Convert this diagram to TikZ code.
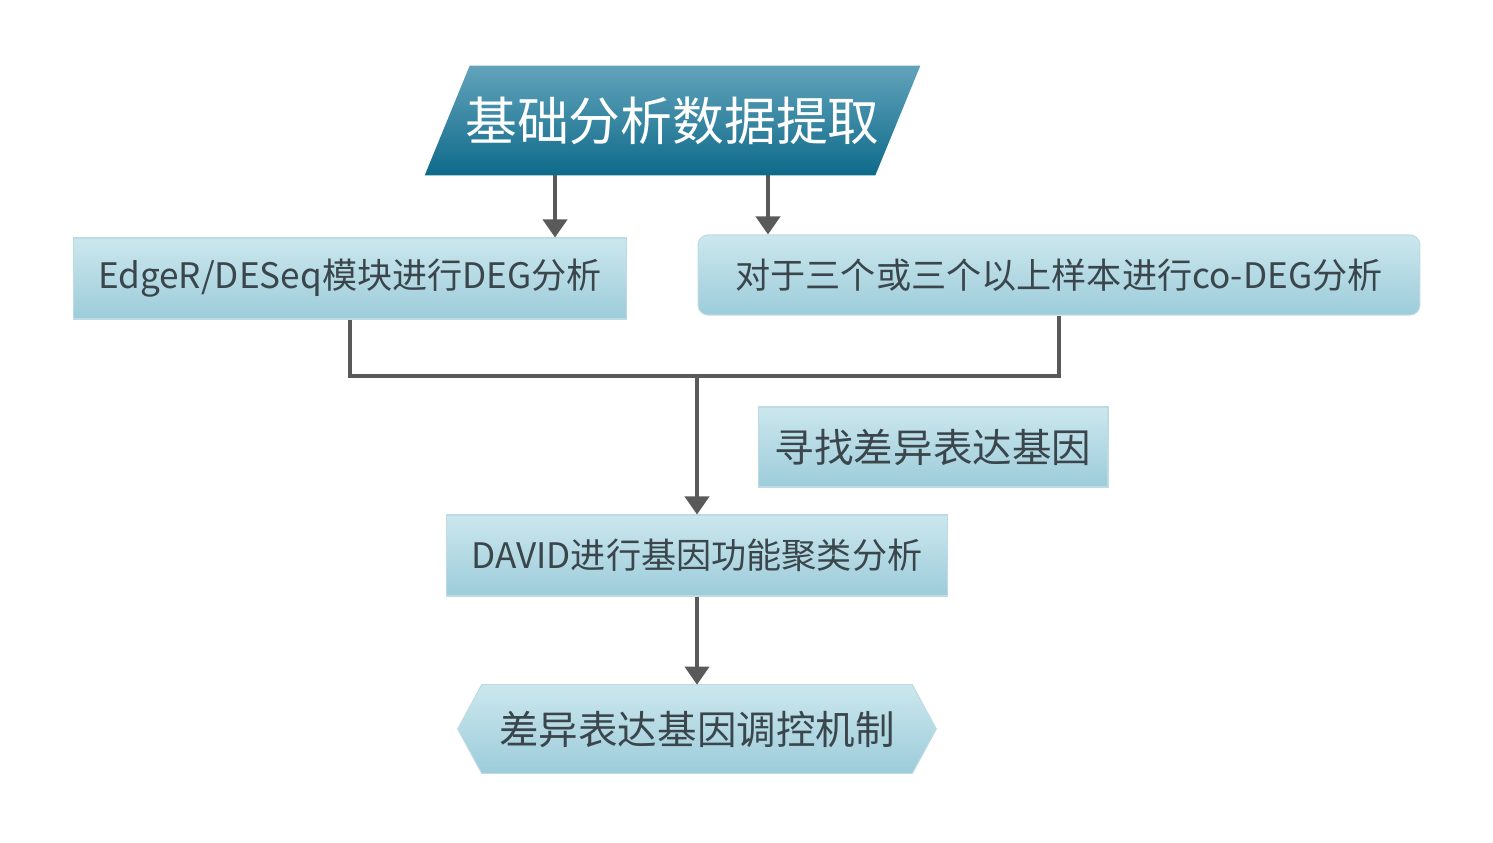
\documentclass[tikz,border=0pt]{standalone}
\usepackage{fontspec}
\usepackage{tikz}
\usetikzlibrary{arrows.meta,backgrounds}
\newfontfamily\cjk{Noto Sans CJK SC}
\definecolor{boxtop}{RGB}{204,231,238}
\definecolor{boxbot}{RGB}{156,204,218}
\definecolor{boxline}{RGB}{190,218,227}
\definecolor{headtop}{RGB}{98,163,187}
\definecolor{headbot}{RGB}{14,106,138}
\definecolor{linegray}{RGB}{90,90,90}
\definecolor{txtgray}{RGB}{58,70,76}
\tikzset{
  stepbox/.style  = {shape=rectangle, draw=boxline, line width=0.6pt,
                     top color=boxtop, bottom color=boxbot,
                     text=txtgray, inner sep=0pt,
                     font=\cjk\fontsize{20}{24}\selectfont},
  notebox/.style  = {stepbox, font=\cjk\fontsize{22.5}{27}\selectfont},
  headnode/.style = {shape=rectangle, inner sep=0pt, text=white,
                     font=\cjk\fontsize{29.5}{36}\selectfont},
  endnode/.style  = {headnode, text=txtgray,
                     font=\cjk\fontsize{22.5}{27}\selectfont},
  link/.style     = {draw=linegray, line width=2.2pt},
  arr/.style      = {link, -{Triangle[width=0.48cm,length=0.36cm]}}
}

\begin{document}
\begin{tikzpicture}[x=0.02cm,y=-0.02cm]
  \useasboundingbox (0,0) rectangle (1493,842);

  \node [headnode, minimum width=9.9cm, minimum height=2.18cm] (head) at (672.5,120.5) {基础分析数据提取};
  \node [stepbox, minimum width=11.08cm, minimum height=1.62cm] (edger) at (350,278.5) {EdgeR/DESeq模块进行DEG分析};
  \node [stepbox, rounded corners=0.2cm, minimum width=14.44cm, minimum height=1.6cm] (codeg) at (1059,275) {对于三个或三个以上样本进行co-DEG分析};
  \node [notebox, minimum width=7cm, minimum height=1.6cm] (find) at (933,447) {寻找差异表达基因};
  \node [stepbox, minimum width=10.04cm, minimum height=1.62cm] (david) at (697,555.5) {DAVID进行基因功能聚类分析};
  \node [endnode, minimum width=9.56cm, minimum height=1.76cm] (mech) at (697,729) {差异表达基因调控机制};
  \coordinate (join) at (697,376);

  % shapes behind the text
  \begin{scope}[on background layer]
    \shade [top color=headtop, bottom color=headbot]
      ([xshift=0.9cm]head.north west) -- (head.north east)
      -- ([xshift=-0.9cm]head.south east) -- (head.south west) -- cycle;
    \shade [top color=boxtop, bottom color=boxbot, draw=boxline, line width=0.6pt]
      (mech.west) -- ([xshift=0.48cm]mech.north west) -- ([xshift=-0.48cm]mech.north east)
      -- (mech.east) -- ([xshift=-0.48cm]mech.south east) -- ([xshift=0.48cm]mech.south west) -- cycle;
  \end{scope}

  % connectors
  \draw [arr] ([xshift=-2.35cm]head.south) -- ([xshift=-2.35cm]head.south |- edger.north);
  \draw [arr] ([xshift=1.91cm]head.south) -- ([xshift=1.91cm]head.south |- codeg.north);
  \draw [link] (edger.south) |- (join) -| (codeg.south);
  \draw [arr] (join) -- (david.north);
  \draw [arr] (david.south) -- (mech.north);
\end{tikzpicture}
\end{document}
